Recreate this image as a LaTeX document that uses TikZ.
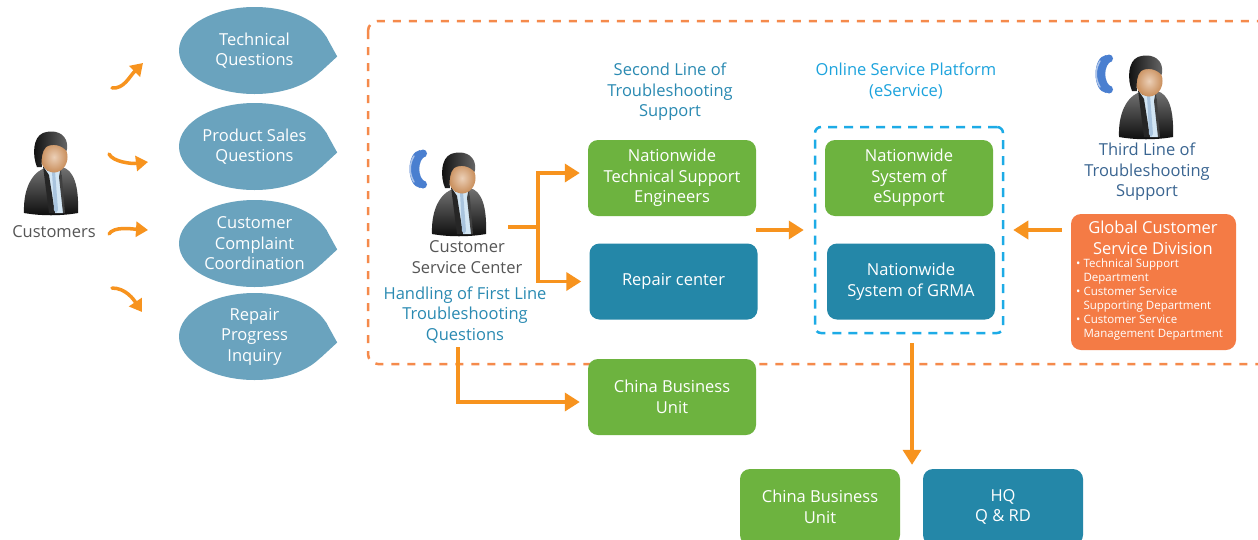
\documentclass[tikz,border=0pt]{standalone}
\usepackage{fontspec}
\setmainfont{Open Sans}
\usetikzlibrary{shapes.geometric,arrows.meta,calc}

\definecolor{arroworange}{HTML}{F7931E}
\definecolor{dashorange}{HTML}{F58A4B}
\definecolor{bubbleblue}{HTML}{6AA3BE}
\definecolor{boxgreen}{HTML}{6DB33F}
\definecolor{boxblue}{HTML}{2487A8}
\definecolor{tealtext}{HTML}{2A8AB2}
\definecolor{skytext}{HTML}{1CA3DD}
\definecolor{navytext}{HTML}{3A6591}
\definecolor{greytext}{HTML}{555555}
\definecolor{gcsdorange}{HTML}{F47B45}
\definecolor{dashblue}{HTML}{1DABE6}
\definecolor{phoneblue}{HTML}{4A7FD0}
\definecolor{skin}{HTML}{D3955F}
\definecolor{shirtblue}{HTML}{D3E6F4}
\definecolor{tieblue}{HTML}{A9C4DE}

\tikzset{
  bigfont/.style={font=\fontsize{16.5}{20.5}\selectfont},
  roundbox/.style={rounded corners=10pt, minimum width=168pt, minimum height=76pt,
    inner sep=0pt, text=white, align=center, bigfont},
  greenbox/.style={roundbox, fill=boxgreen},
  bluebox/.style={roundbox, fill=boxblue},
  bubble/.style={ellipse, fill=bubbleblue, minimum width=151pt, minimum height=87pt,
    inner sep=0pt, text=white, align=center, bigfont},
  headline/.style={align=center, bigfont, inner sep=0pt},
  flow/.style={draw=arroworange, line width=3.5pt, -{Triangle[length=15pt,width=18pt]}},
  swoosh/.style={draw=arroworange, line width=3.5pt, line cap=round,
    -{Triangle[length=12pt,width=15pt]}},
  person/.pic={
    % jacket
    \shade[top color=black!55, bottom color=black!95]
      (-22,82) .. controls (-23,55) and (-12,39) .. (2,36) -- (16,36)
      .. controls (28,39) and (33,55) .. (32,82)
      .. controls (15,85) and (-5,85) .. (-22,82) -- cycle;
    % shirt, lapels and tie
    \fill[shirtblue] (-3,35) -- (15,35) -- (17,82) -- (9,82) -- cycle;
    \fill[black!85] (-3,35) -- (3,44) -- (9,82) -- (3,82) -- cycle;
    \fill[black!75] (15,35) -- (13,46) -- (17,82) -- (19,82) -- cycle;
    \fill[tieblue] (6,40) -- (9,40) -- (12,79) -- (10,82) -- (8,79) -- cycle;
    % neck and face
    \fill[skin!80!black] (1,30) rectangle (14,40);
    \shade[inner color=skin!45!white, outer color=skin!95!black]
      (8,26) ellipse [x radius=13.5, y radius=15.5];
    % hair
    \shade[left color=black!95, right color=black!60]
      (-9,36) .. controls (-14,24) and (-13,6) .. (-3,2)
      .. controls (5,-1) and (16,0) .. (20,9)
      .. controls (21.5,13) and (21.5,17) .. (20.5,20)
      .. controls (16,14) and (6,12) .. (0,16)
      .. controls (-4,20) and (-5,28) .. (-4,36) -- cycle;
  },
  phone/.pic={
    \fill[phoneblue] (13,0) .. controls (-1,2) and (-1,36) .. (13,38) -- (19,32)
      .. controls (10,29) and (10,9) .. (19,6) -- cycle;
    \fill[phoneblue] (16,3.5) circle [radius=4];
    \fill[phoneblue] (16,34.5) circle [radius=4];
    \draw[phoneblue!45!white, line width=1.5pt, line cap=round]
      (7,6) .. controls (2,14) and (2,24) .. (7,32);
  },
}

\begin{document}
\begin{tikzpicture}[x=1pt,y=-1pt]
\useasboundingbox (0,0) rectangle (1258,539);
\fill[white] (0,0) rectangle (1258,539);
\clip (0,0) rectangle (1258,539);

% frame of the first/second/third line area
\draw[dashorange, line width=2.5pt, dash pattern=on 8pt off 8pt, rounded corners=10pt]
  (368,21) rectangle (1285,364);

% customers
\pic (custicon) at (46,131) {person};
\node[headline, text=greytext] (customers) at (54,232) {Customers};

% question bubbles
\node[bubble] (b1) at (254.5,50.5) {Technical\\Questions};
\node[bubble] (b2) at (254.5,146.5) {Product Sales\\Questions};
\node[bubble] (b3) at (254.5,243.5) {Customer\\Complaint\\Coordination};
\node[bubble] (b4) at (254.5,336.5) {Repair\\Progress\\Inquiry};
\foreach \b in {b1,b2,b3,b4}
  \fill[bubbleblue] (\b.12) -- ($(\b.east)+(7,6)$) -- (\b.-18) -- cycle;

% swoosh arrows from the customer
\coordinate (s1a) at (112,88);  \coordinate (s1b) at (143,63);
\coordinate (s2a) at (109,154); \coordinate (s2b) at (148,162);
\coordinate (s3a) at (109,234); \coordinate (s3b) at (148,230);
\coordinate (s4a) at (112,288); \coordinate (s4b) at (142,312);
\draw[swoosh] (s1a) .. controls +(12,1) and +(-14,14) .. (s1b);
\draw[swoosh] (s2a) .. controls +(4,8) and +(-16,2) .. (s2b);
\draw[swoosh] (s3a) .. controls +(5,-8) and +(-16,-1) .. (s3b);
\draw[swoosh] (s4a) .. controls +(14,0) and +(-8,-12) .. (s4b);

% customer service center
\pic (cscphone) at (407,150) {phone};
\pic (cscicon) at (454,152) {person};
\node[headline, text=greytext] (csc) at (467,257) {Customer\\Service Center};
\node[headline, text=tealtext] (handling) at (465,315)
  {Handling of First Line\\Troubleshooting\\Questions};
\coordinate (cscout) at (508,227);

% second line
\node[headline, text=tealtext] (second) at (670,92) {Second Line of\\Troubleshooting\\Support};
\node[greenbox] (tse) at (672,178) {Nationwide\\Technical Support\\Engineers};
\node[bluebox] (repair) at (673.5,281.5) {Repair center};
\node[greenbox] (cbu1) at (672,397) {China Business\\Unit};

% online service platform
\node[headline, text=skytext] (online) at (906,81) {Online Service Platform\\(eService)};
\node[draw=dashblue, line width=2.5pt, dash pattern=on 9pt off 7pt, rounded corners=6pt,
  minimum width=188pt, minimum height=206pt, inner sep=0pt] (eservice) at (909,230) {};
\node[greenbox] (esupport) at (909,178) {Nationwide\\System of\\eSupport};
\node[bluebox] (grma) at (911,281.5) {Nationwide\\System of GRMA};

% third line
\pic (thirdphone) at (1093,55) {phone};
\pic (thirdicon) at (1141,55) {person};
\node[headline, text=navytext] (third) at (1147,172) {Third Line of\\Troubleshooting\\Support};
\node[fill=gcsdorange, rounded corners=10pt, minimum width=165pt, minimum height=136pt,
  inner sep=0pt] (gcsd) at (1153.5,282) {};
\node[headline, text=white] (gcsdtitle) at (1153,238) {Global Customer\\Service Division};
\node[anchor=north west, align=left, text=white, inner sep=0pt,
  font=\fontsize{11.5}{14}\selectfont] (gcsdlist) at (1076,259)
  {\textbullet\ Technical Support\\\phantom{\textbullet\ }Department\\
   \textbullet\ Customer Service\\\phantom{\textbullet\ }Supporting Department\\
   \textbullet\ Customer Service\\\phantom{\textbullet\ }Management Department};

% headquarters level
\node[greenbox, minimum width=160pt] (cbu2) at (820,507) {China Business\\Unit};
\node[bluebox, minimum width=160pt] (hq) at (1003,507) {HQ\\Q \& RD};

% connectors
\draw[flow, shorten >=8pt] (cscout) -- ++(30,0) |- ([yshift=5pt]tse.west);
\draw[flow, shorten >=8pt] (cscout) -- ++(30,0) |- (repair.west);
\draw[flow, shorten >=10pt] (tse.east |- eservice.west) -- (eservice.west);
\draw[flow, shorten >=9pt] ([xshift=-9pt]gcsd.west |- eservice.east) -- (eservice.east);
\draw[flow, shorten <=4pt, shorten >=8pt] ([xshift=-7pt]handling.south) |- ([yshift=-5pt]cbu1.west);
\draw[flow, shorten <=9pt, shorten >=4pt] ([xshift=3pt]eservice.south) -- ([xshift=3pt]eservice.south |- cbu2.north);
\end{tikzpicture}
\end{document}
